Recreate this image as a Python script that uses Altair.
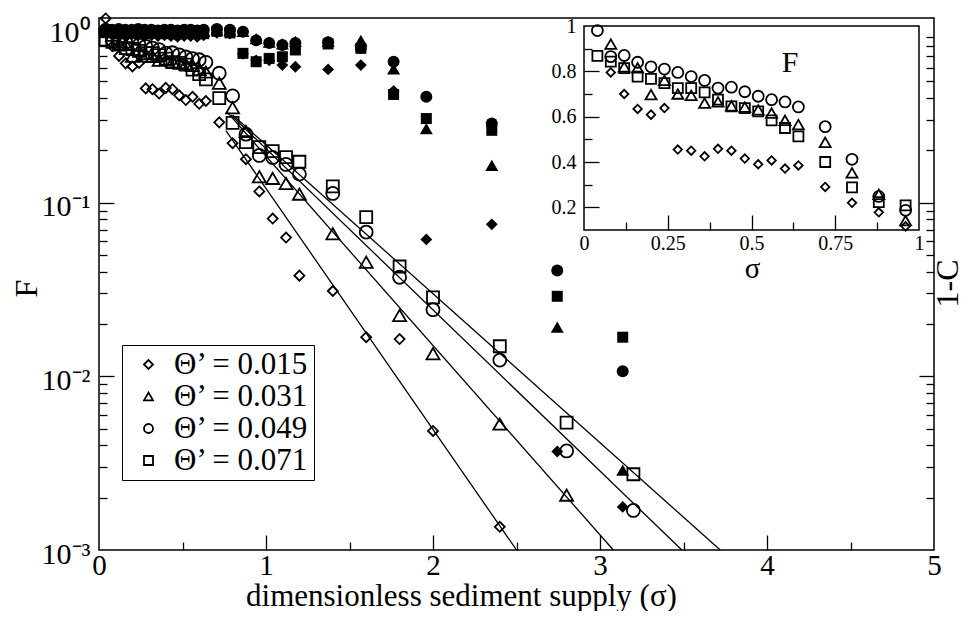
import altair as alt
import pandas as pd

FONT = "Liberation Serif"
W, H = 835, 532

# ---------------- data ----------------
series_labels = ["Θ’ = 0.015", "Θ’ = 0.031", "Θ’ = 0.049", "Θ’ = 0.071"]
series_shapes = ["diamond", "triangle-up", "circle", "square"]

sigma_open = [0.04, 0.08, 0.12, 0.16, 0.20, 0.24, 0.28, 0.32, 0.36, 0.40,
              0.44, 0.48, 0.52, 0.56, 0.60, 0.64, 0.72, 0.80, 0.88, 0.96,
              1.04, 1.12, 1.20, 1.40, 1.60, 1.80, 2.00, 2.40, 2.80, 3.20]

F_015 = [1.15, 0.795, 0.70, 0.634, 0.609, 0.638, 0.455, 0.45, 0.425, 0.458,
         0.45, 0.415, 0.39, 0.407, 0.371, 0.385, 0.29, 0.22, 0.178, 0.116,
         0.081, 0.063, 0.038, 0.031, 0.0168, 0.0164, 0.00485, 0.00136, None, None]
F_031 = [None, 0.92, 0.82, 0.815, 0.697, 0.76, 0.70, 0.694, 0.66, 0.665,
         0.648, 0.642, 0.63, 0.616, 0.584, 0.565, 0.487, 0.352, 0.257, 0.141,
         0.138, 0.129, 0.112, 0.0662, 0.0454, 0.0224, 0.0135, 0.00531, 0.00207, None]
F_049 = [0.98, 0.865, 0.87, 0.84, 0.82, 0.81, 0.795, 0.777, 0.76, 0.726,
         0.73, 0.71, 0.69, 0.675, 0.665, 0.643, 0.556, 0.412, 0.248, 0.187,
         0.182, 0.166, 0.146, 0.113, 0.0677, 0.0372, 0.0242, 0.0124, 0.00372, 0.00169]
F_071 = [0.868, 0.843, 0.814, 0.777, 0.767, 0.748, 0.726, 0.726, 0.707, 0.675,
         0.645, 0.638, 0.623, 0.584, 0.55, 0.513, 0.40, 0.288, 0.223, 0.209,
         0.198, 0.183, 0.172, 0.124, 0.0826, 0.0429, 0.0285, 0.0149, 0.00542, 0.00273]

sigma_fill = [0.039, 0.078, 0.118, 0.157, 0.196, 0.235, 0.274, 0.314, 0.353, 0.392,
              0.431, 0.470, 0.510, 0.549, 0.588, 0.627, 0.706, 0.784, 0.862, 0.941,
              1.019, 1.098, 1.176, 1.372, 1.568, 1.764, 1.960, 2.352, 2.744, 3.136]

C_015 = [0.95, 0.93, 0.94, 0.92, 0.93, 0.92, 0.91, 0.92, 0.91, 0.92,
         0.91, 0.90, 0.91, 0.91, 0.90, 0.92, 0.95, 0.94, 0.72, 0.66,
         0.66, 0.62, 0.606, 0.585, 0.62, 0.44, 0.0614, 0.075, 0.00369, 0.00177]
C_031 = [0.98, 0.97, 0.98, 0.97, 0.98, 0.97, 0.97, 0.98, 0.97, 0.97,
         0.98, 0.97, 0.97, 0.96, 0.97, 0.97, 0.99, 0.98, 0.97, 0.88,
         0.84, 0.82, 0.85, 0.85, 0.86, 0.59, 0.267, 0.164, 0.0192, 0.00288]
C_049 = [1.0, 0.99, 1.0, 0.99, 0.99, 1.0, 0.99, 0.99, 0.98, 0.99,
         0.99, 0.98, 0.99, 0.99, 0.98, 0.99, 1.0, 0.99, 0.965, 0.86,
         0.83, 0.81, 0.83, 0.84, 0.78, 0.648, 0.407, 0.286, 0.0407, 0.0107]
C_071 = [0.96, 0.95, 0.95, 0.96, 0.95, 0.95, 0.94, 0.95, 0.95, 0.94,
         0.95, 0.94, 0.94, 0.95, 0.94, 0.94, 0.97, 0.95, 0.724, 0.648,
         0.677, 0.692, 0.757, 0.82, 0.774, 0.42, 0.305, 0.261, 0.0289, 0.0168]

# exponential fits (straight on log axis): start and end points
fit_sigma_start = [0.76, 0.77, 0.79, 0.80]
fit_F_start = [0.26, 0.33, 0.32, 0.32]
fit_sigma_end = [2.50, 3.08, 3.49, 3.72]
fit_F_end = [0.001, 0.001, 0.001, 0.001]

# axes
main_x_domain = [0, 5]
main_y_domain = [0.001, 1.157]
x_major = [0, 1, 2, 3, 4, 5]
x_ticks_all = [0.5, 1, 1.5, 2, 2.5, 3, 3.5, 4, 4.5]
y_major = [0.001, 0.01, 0.1, 1]
y_major_labels = ["10⁻³", "10⁻²", "10⁻¹", "10⁰"]
y_ticks_all = [0.002, 0.003, 0.004, 0.005, 0.006, 0.007, 0.008, 0.009, 0.01,
               0.02, 0.03, 0.04, 0.05, 0.06, 0.07, 0.08, 0.09, 0.1,
               0.2, 0.3, 0.4, 0.5, 0.6, 0.7, 0.8, 0.9]

inset_x_domain = [0, 1]
inset_y_domain = [0.1, 1.0]
inset_x_major = [0, 0.25, 0.5, 0.75, 1]
inset_x_labels = ["0", "0.25", "0.5", "0.75", "1"]
inset_x_ticks_all = [0.125, 0.25, 0.375, 0.5, 0.625, 0.75, 0.875]
inset_y_major = [0.2, 0.4, 0.6, 0.8, 1.0]
inset_y_labels = ["0.2", "0.4", "0.6", "0.8", "1"]
inset_y_ticks_all = [0.2, 0.3, 0.4, 0.5, 0.6, 0.7, 0.8, 0.9]
inset_label_pos = [0.615, 0.835]

# ---------------- tables ----------------
rows = []
for lab, vals in zip(series_labels, [F_015, F_031, F_049, F_071]):
    for s, v in zip(sigma_open, vals):
        if v is not None:
            rows.append({"sigma": s, "F": v, "series": lab, "sz": lab})
open_df = pd.DataFrame(rows)

rows = []
for lab, vals in zip(series_labels, [C_015, C_031, C_049, C_071]):
    for s, v in zip(sigma_fill, vals):
        if v is not None:
            rows.append({"sigma": s, "F": v, "series": lab, "sz": lab})
fill_df = pd.DataFrame(rows)

rows = []
for lab, s0, f0, s1, f1 in zip(series_labels, fit_sigma_start, fit_F_start, fit_sigma_end, fit_F_end):
    rows.append({"sigma": s0, "F": f0, "series": lab})
    rows.append({"sigma": s1, "F": f1, "series": lab})
fit_df = pd.DataFrame(rows)

inset_df = open_df[(open_df["sigma"] < inset_x_domain[1]) & (open_df["F"] <= inset_y_domain[1])]
frame_df = pd.DataFrame({"x0": [inset_x_domain[0]], "x1": [inset_x_domain[1]],
                         "y0": [inset_y_domain[0]], "y1": [inset_y_domain[1]]})

# ---------------- helpers ----------------
def cond_tick(test, big, small):
    return {"condition": {"test": test, "value": big}, "value": small}

def label_expr(values, labels):
    e = "''"
    for v, t in zip(values, labels):
        e = f"abs(datum.value - {v}) < 1e-9 ? '{t}' : " + e
    return e

X_MAJOR_TEST = "abs(datum.value - round(datum.value)) < 1e-6"
Y_MAJOR_TEST = "abs(log(datum.value)/LN10 - round(log(datum.value)/LN10)) < 1e-6"
IX_MAJOR_TEST = "abs(datum.value*4 - round(datum.value*4)) < 1e-6"
IY_MAJOR_TEST = "abs(datum.value*5 - round(datum.value*5)) < 1e-6"

xs = alt.Scale(domain=main_x_domain, nice=False, zero=False)
ys = alt.Scale(type="log", domain=main_y_domain, nice=False)
shape_scale = alt.Scale(domain=series_labels, range=series_shapes)

tick_common = dict(labels=False, domain=False, title=None, tickColor="black",
                   tickWidth=1.3, grid=False, zindex=1)

x_label_axis = alt.Axis(orient="bottom", values=x_major, format="d", ticks=False, tickSize=0,
                        domain=False, labelFontSize=29, labelPadding=1, labelFlush=False,
                        labelOverlap=False, title="dimensionless sediment supply (σ)",
                        titleFontSize=31, titleX=362, titleY=55, titleAlign="center",
                        titleBaseline="alphabetic", grid=False)
y_label_axis = alt.Axis(orient="left", values=y_major, labelExpr=label_expr(y_major, y_major_labels),
                        ticks=False, tickSize=0, domain=False, labelFontSize=30, labelPadding=9,
                        labelOffset=4, labelFlush=False, labelOverlap=False, title="F",
                        titleFontSize=32, titleAngle=270, titleX=-73, titleY=270,
                        titleAlign="center", titleBaseline="middle", grid=False)
x_tick_axis = alt.Axis(orient="top", offset=-H, values=x_ticks_all,
                       tickSize=cond_tick(X_MAJOR_TEST, 15, 8), **tick_common)
y_tick_axis_l = alt.Axis(orient="right", offset=-W, values=y_ticks_all,
                         tickSize=cond_tick(Y_MAJOR_TEST, 15, 8), **tick_common)
y_tick_axis_r = alt.Axis(orient="left", offset=-W, values=y_ticks_all,
                         tickSize=cond_tick(Y_MAJOR_TEST, 15, 8), **tick_common)
y_title_r = alt.Axis(orient="right", ticks=False, labels=False, domain=False, grid=False,
                     title="1-C", titleFontSize=32, titleAngle=270, titleX=13, titleY=265,
                     titleAlign="center", titleBaseline="middle")

legend = alt.Legend(orient="none", legendX=23, legendY=327, title=None, direction="vertical",
                    strokeColor="black", fillColor="white", padding=4,
                    labelFont=FONT, labelFontSize=31, labelColor="black", labelLimit=400,
                    symbolSize=81, symbolStrokeWidth=1.8, symbolStrokeColor="black",
                    symbolFillColor="white", symbolOffset=7, labelOffset=10, rowPadding=0)

open_layer = alt.Chart(open_df).mark_point(filled=False, color="black", strokeWidth=1.8, opacity=1).encode(
    x=alt.X("sigma:Q", scale=xs, axis=x_label_axis),
    y=alt.Y("F:Q", scale=ys, axis=y_label_axis),
    shape=alt.Shape("series:N", scale=shape_scale, legend=legend),
    size=alt.Size("sz:N", scale=alt.Scale(type="ordinal", domain=series_labels, range=[100, 169, 169, 144]), legend=None),
)
fill_layer = alt.Chart(fill_df).mark_point(filled=True, color="black", opacity=1).encode(
    x=alt.X("sigma:Q", scale=xs, axis=x_tick_axis),
    y=alt.Y("F:Q", scale=ys, axis=y_tick_axis_l),
    shape=alt.Shape("series:N", scale=shape_scale, legend=None),
    size=alt.Size("sz:N", scale=alt.Scale(type="ordinal", domain=series_labels, range=[140, 169, 144, 121]), legend=None),
)
fit_layer = alt.Chart(fit_df).mark_line(color="black", strokeWidth=1.3).encode(
    x=alt.X("sigma:Q", scale=xs, axis=None),
    y=alt.Y("F:Q", scale=ys, axis=y_tick_axis_r),
    detail="series:N",
)
title_layer = alt.Chart(open_df).mark_point(opacity=0).encode(
    x=alt.X("sigma:Q", scale=xs, axis=None),
    y=alt.Y("F:Q", scale=ys, axis=y_title_r),
)
main = alt.layer(open_layer, fill_layer, fit_layer, title_layer).resolve_axis(
    x="independent", y="independent").resolve_scale(size="independent")

# ---------------- inset ----------------
ixs = alt.Scale(domain=inset_x_domain, range=[485, 820], nice=False, zero=False)
iys = alt.Scale(domain=inset_y_domain, range=[212, 8], nice=False, zero=False)

ix_label_axis = alt.Axis(orient="bottom", offset=-(H - 212), values=inset_x_major,
                         labelExpr=label_expr(inset_x_major, inset_x_labels),
                         ticks=False, tickSize=0, domain=False, labelFontSize=20, labelPadding=3,
                         labelFlush=False, labelOverlap=False, title="σ", titleFontSize=29,
                         titleX=653, titleY=38, titleAlign="center", titleBaseline="middle",
                         grid=False, zindex=1)
iy_label_axis = alt.Axis(orient="left", offset=-485, values=inset_y_major,
                         labelExpr=label_expr(inset_y_major, inset_y_labels),
                         ticks=False, tickSize=0, domain=False, labelFontSize=20, labelPadding=8,
                         labelFlush=False, labelOverlap=False, title=None, grid=False, zindex=1)
ix_tick_axis = alt.Axis(orient="top", offset=-212, values=inset_x_ticks_all,
                        tickSize=cond_tick(IX_MAJOR_TEST, 15, 8), **tick_common)
iy_tick_axis = alt.Axis(orient="right", offset=-(W - 485), values=inset_y_ticks_all,
                        tickSize=cond_tick(IY_MAJOR_TEST, 15, 8), **tick_common)

frame = alt.Chart(frame_df).mark_rect(fill="white", stroke="black", strokeWidth=1.5).encode(
    x=alt.X("x0:Q", scale=ixs, axis=ix_label_axis), x2="x1:Q",
    y=alt.Y("y0:Q", scale=iys, axis=iy_label_axis), y2="y1:Q",
)
inset_pts = alt.Chart(inset_df).mark_point(filled=False, color="black", strokeWidth=1.8, opacity=1).encode(
    x=alt.X("sigma:Q", scale=ixs, axis=ix_tick_axis),
    y=alt.Y("F:Q", scale=iys, axis=iy_tick_axis),
    shape=alt.Shape("series:N", scale=shape_scale, legend=None),
    size=alt.Size("sz:N", scale=alt.Scale(type="ordinal", domain=series_labels, range=[72, 121, 121, 100]), legend=None),
)
ftext = alt.Chart(frame_df).mark_text(text="F", font=FONT, fontSize=30, align="center",
                                      baseline="middle", color="black").encode(
    x=alt.XDatum(inset_label_pos[0], type="quantitative", axis=None),
    y=alt.YDatum(inset_label_pos[1], type="quantitative", axis=None),
)
inset = alt.layer(frame, inset_pts, ftext).resolve_axis(x="independent", y="independent")

chart = alt.layer(main, inset).resolve_scale(
    x="independent", y="independent", size="independent"
).properties(
    width=W, height=H,
    autosize=alt.AutoSizeParams(type="none"),
    padding={"left": 91, "top": 10, "right": 31, "bottom": 61},
).configure_view(stroke="black", strokeWidth=1.5).configure_axis(
    labelFont=FONT, titleFont=FONT, labelColor="black", titleColor="black",
    titleFontWeight="normal", grid=False,
).configure_text(font=FONT)

chart.save("out.html", embed_options={"renderer": "svg", "actions": False})
